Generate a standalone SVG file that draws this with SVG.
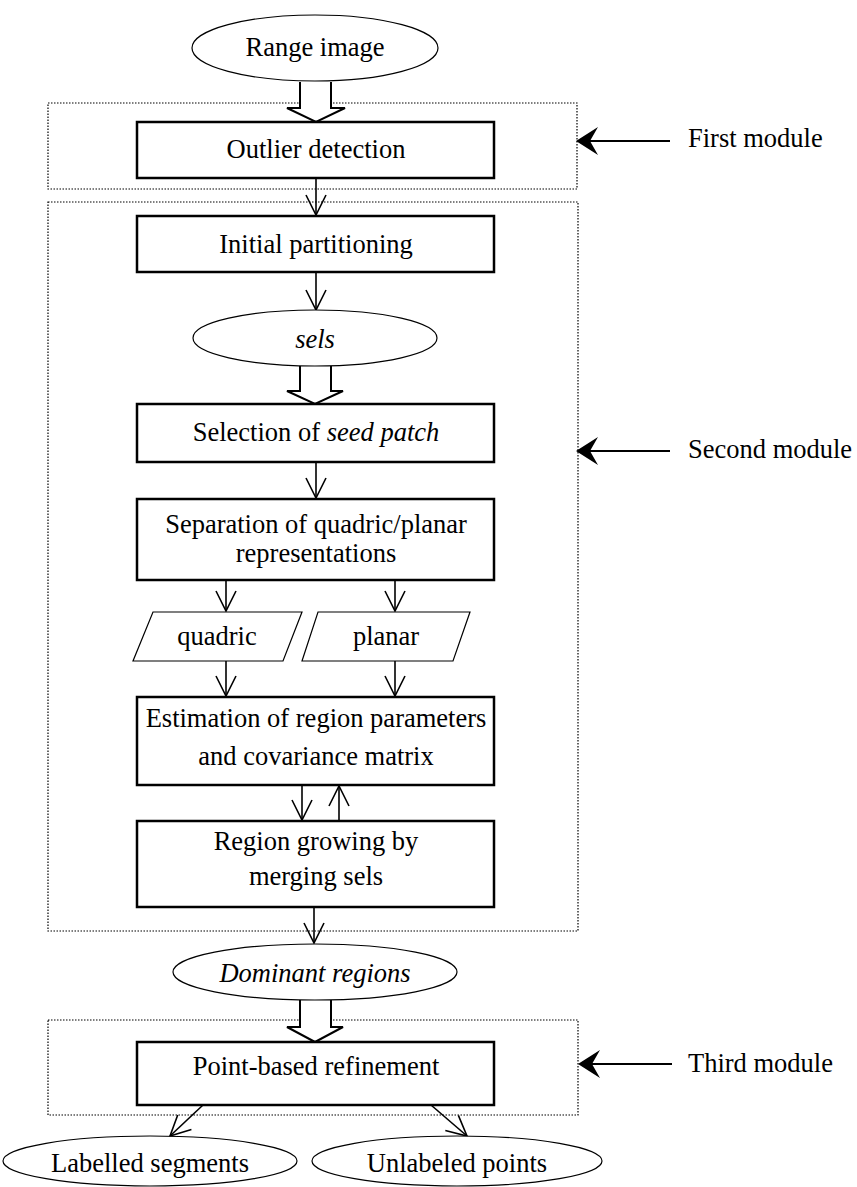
<svg xmlns="http://www.w3.org/2000/svg" width="857" height="1187" viewBox="0 0 857 1187">
<style>
text{font-family:"Liberation Serif","Times New Roman",serif;font-size:26.5px;fill:#000}
.c{text-anchor:middle}
.i{font-style:italic}
.box{fill:#fff;stroke:#000;stroke-width:2.5}
.ell{fill:#fff;stroke:#000;stroke-width:1.2}
.mod{fill:none;stroke:#000;stroke-width:1.2;stroke-dasharray:1.5 1.5}
.ln{fill:none;stroke:#000;stroke-width:1.6}
.blk{fill:#fff;stroke:#000;stroke-width:2}
.ml{fill:none;stroke:#000;stroke-width:2}
</style>
<defs>
<marker id="v" viewBox="0 -12 22 24" markerUnits="userSpaceOnUse" markerWidth="22" markerHeight="24" refX="21" refY="0" orient="auto">
<path d="M1,-10 L21,0 L1,10" fill="none" stroke="#000" stroke-width="1.6"/>
</marker>
</defs>
<g id="modules">
<rect id="first-module" class="mod" x="48" y="103" width="529" height="86"/>
<rect id="second-module" class="mod" x="48" y="202" width="530" height="729"/>
<rect id="third-module" class="mod" x="48" y="1020" width="530" height="95"/>
</g>
<g id="connectors">
<path class="blk" d="M300,82 V108 H287 L316,122 L345,108 H331 V82"/>
<line class="ln" x1="316" y1="178" x2="316" y2="215" marker-end="url(#v)"/>
<line class="ln" x1="316" y1="272" x2="316" y2="310" marker-end="url(#v)"/>
<path class="blk" d="M300,366 V391 H287 L315,404 L343,391 H331 V366"/>
<line class="ln" x1="316" y1="462" x2="316" y2="498" marker-end="url(#v)"/>
<line class="ln" x1="226" y1="580" x2="226" y2="611" marker-end="url(#v)"/>
<line class="ln" x1="395" y1="580" x2="395" y2="611" marker-end="url(#v)"/>
<line class="ln" x1="226" y1="661" x2="226" y2="696" marker-end="url(#v)"/>
<line class="ln" x1="395" y1="661" x2="395" y2="696" marker-end="url(#v)"/>
<line class="ln" x1="302" y1="785" x2="302" y2="820" marker-end="url(#v)"/>
<line class="ln" x1="339" y1="821" x2="339" y2="786" marker-end="url(#v)"/>
<line class="ln" x1="314" y1="907" x2="314" y2="943" marker-end="url(#v)"/>
<path class="blk" d="M300,1000 V1027 H287 L315,1042 L343,1027 H331 V1000"/>
<line class="ln" x1="203" y1="1105" x2="170" y2="1136" marker-end="url(#v)"/>
<line class="ln" x1="431" y1="1105" x2="467" y2="1136" marker-end="url(#v)"/>
<line class="ml" x1="590" y1="141" x2="670" y2="141"/>
<path d="M576,141 L598,127 L590,141 L598,155 Z" fill="#000"/>
<line class="ml" x1="590" y1="451" x2="670" y2="451"/>
<path d="M576,451 L598,437 L590,451 L598,465 Z" fill="#000"/>
<line class="ml" x1="592" y1="1064" x2="672" y2="1064"/>
<path d="M578,1064 L600,1050 L592,1064 L600,1078 Z" fill="#000"/>
</g>
<g id="range-image">
<ellipse class="ell" cx="315" cy="48" rx="123" ry="33"/>
<text class="c" x="315" y="56">Range image</text>
</g>
<g id="outlier-detection">
<rect class="box" x="137" y="122" width="357" height="56"/>
<text class="c" x="316" y="158">Outlier detection</text>
</g>
<g id="initial-partitioning">
<rect class="box" x="137" y="216" width="357" height="56"/>
<text class="c" x="316" y="253">Initial partitioning</text>
</g>
<g id="sels">
<ellipse class="ell" cx="315" cy="338" rx="122" ry="28"/>
<text class="c i" x="315" y="348">sels</text>
</g>
<g id="selection">
<rect class="box" x="137" y="404" width="357" height="58"/>
<text class="c" x="316" y="441">Selection of <tspan class="i">seed patch</tspan></text>
</g>
<g id="separation">
<rect class="box" x="137" y="499" width="357" height="81"/>
<text class="c" x="316" y="533">Separation of quadric/planar</text>
<text class="c" x="316" y="562">representations</text>
</g>
<g id="quadric">
<polygon class="ell" points="153,612 302,612 283,661 133,661"/>
<text class="c" x="217" y="645">quadric</text>
</g>
<g id="planar">
<polygon class="ell" points="318,612 470,612 453,661 302,661"/>
<text class="c" x="386" y="645">planar</text>
</g>
<g id="estimation">
<rect class="box" x="137" y="697" width="357" height="88"/>
<text class="c" x="316" y="727">Estimation of region parameters</text>
<text class="c" x="316" y="765">and covariance matrix</text>
</g>
<g id="region-growing">
<rect class="box" x="137" y="821" width="357" height="86"/>
<text class="c" x="316" y="850">Region growing by</text>
<text class="c" x="316" y="885">merging sels</text>
</g>
<g id="dominant-regions">
<ellipse class="ell" cx="315" cy="972" rx="142" ry="28"/>
<text class="c i" x="315" y="982">Dominant regions</text>
</g>
<g id="point-based">
<rect class="box" x="137" y="1042" width="357" height="63"/>
<text class="c" x="316" y="1075">Point-based refinement</text>
</g>
<g id="labelled-segments">
<ellipse class="ell" cx="150" cy="1161" rx="147" ry="25"/>
<text class="c" x="150" y="1172">Labelled segments</text>
</g>
<g id="unlabeled-points">
<ellipse class="ell" cx="457" cy="1161" rx="145" ry="25"/>
<text class="c" x="457" y="1172">Unlabeled points</text>
</g>
<g id="labels">
<text x="688" y="147">First module</text>
<text x="688" y="458">Second module</text>
<text x="688" y="1072">Third module</text>
</g>
</svg>
